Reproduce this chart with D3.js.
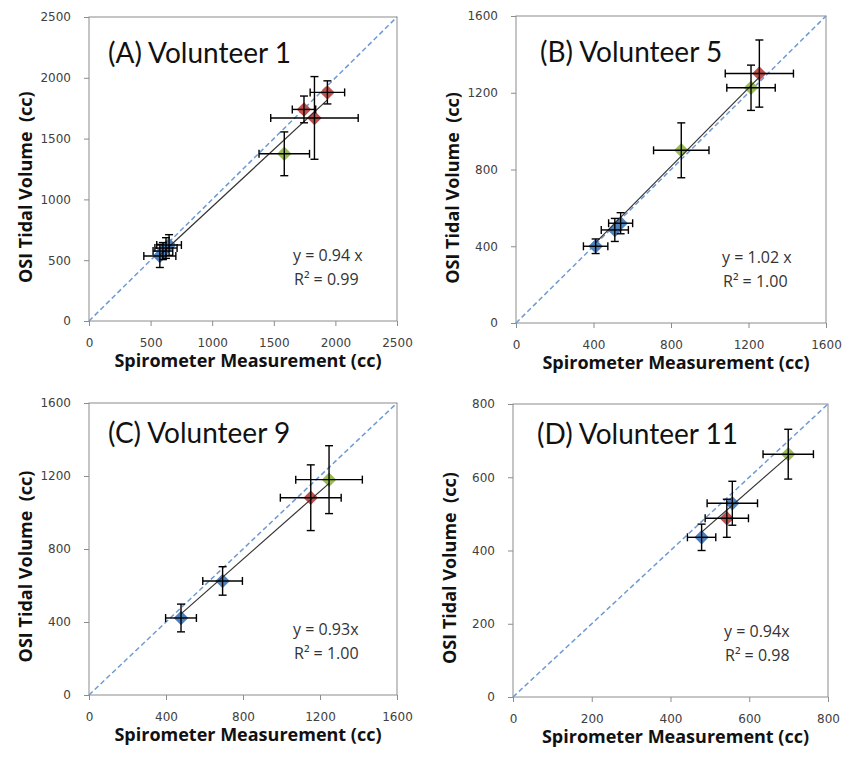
<!DOCTYPE html>
<html>
<head>
<meta charset="utf-8">
<script src="https://cdnjs.cloudflare.com/ajax/libs/d3/7.8.5/d3.min.js"></script>
<style>
  body { margin: 0; background: #fff; }
  .tick text { font-family: "DejaVu Sans", sans-serif; font-size: 12px; fill: #404040; }
  .tick line { stroke: #8c8c8c; }
  .ptitle { font-family: Lato, "Open Sans", sans-serif; font-size: 28px; fill: #111; }
  .atitle { font-family: "Open Sans", Lato, sans-serif; font-size: 18px; font-weight: bold; fill: #111; }
  .eq { font-family: "Open Sans", Lato, sans-serif; font-size: 16px; fill: #333; }
</style>
</head>
<body>
<div id="chart"></div>
<script>
// spirometer (x) vs OSI (y) tidal volume, mean +/- sd, by set
var volunteer1 = [
  {spiro: 575, osi: 535, spiroErr: 130, osiErr: 95, set: "s1"},
  {spiro: 600, osi: 575, spiroErr: 80, osiErr: 70, set: "s1"},
  {spiro: 625, osi: 600, spiroErr: 90, osiErr: 85, set: "s1"},
  {spiro: 650, osi: 625, spiroErr: 100, osiErr: 85, set: "s1"},
  {spiro: 1745, osi: 1740, spiroErr: 95, osiErr: 110, set: "s2"},
  {spiro: 1830, osi: 1670, spiroErr: 355, osiErr: 340, set: "s2"},
  {spiro: 1935, osi: 1880, spiroErr: 140, osiErr: 95, set: "s2"},
  {spiro: 1585, osi: 1375, spiroErr: 205, osiErr: 180, set: "s3"}
];
var volunteer5 = [
  {spiro: 411, osi: 400, spiroErr: 63, osiErr: 38, set: "s1"},
  {spiro: 510, osi: 485, spiroErr: 70, osiErr: 60, set: "s1"},
  {spiro: 540, osi: 520, spiroErr: 62, osiErr: 55, set: "s1"},
  {spiro: 853, osi: 900, spiroErr: 143, osiErr: 143, set: "s3"},
  {spiro: 1213, osi: 1226, spiroErr: 125, osiErr: 118, set: "s3"},
  {spiro: 1256, osi: 1300, spiroErr: 176, osiErr: 175, set: "s2"}
];
var volunteer9 = [
  {spiro: 478, osi: 422, spiroErr: 80, osiErr: 76, set: "s1"},
  {spiro: 694, osi: 625, spiroErr: 103, osiErr: 78, set: "s1"},
  {spiro: 1152, osi: 1081, spiroErr: 158, osiErr: 180, set: "s2"},
  {spiro: 1247, osi: 1180, spiroErr: 173, osiErr: 186, set: "s3"}
];
var volunteer11 = [
  {spiro: 479, osi: 436, spiroErr: 36, osiErr: 36, set: "s1"},
  {spiro: 557, osi: 529, spiroErr: 64, osiErr: 60, set: "s1"},
  {spiro: 543, osi: 488, spiroErr: 55, osiErr: 52, set: "s2"},
  {spiro: 699, osi: 663, spiroErr: 64, osiErr: 68, set: "s3"}
];

var panelNames = ["(A) Volunteer 1", "(B) Volunteer 5", "(C) Volunteer 9", "(D) Volunteer 11"];
var slopeLabels = ["y = 0.94 x", "y = 1.02 x", "y = 0.93x", "y = 0.94x"];
var slopes = [0.94, 1.02, 0.93, 0.94];
var r2Labels = ["R\u00b2 = 0.99", "R\u00b2 = 1.00", "R\u00b2 = 1.00", "R\u00b2 = 0.98"];
var axisMax = [2500, 1600, 1600, 800];
var tickValues = [
  [0, 500, 1000, 1500, 2000, 2500],
  [0, 400, 800, 1200, 1600],
  [0, 400, 800, 1200, 1600],
  [0, 200, 400, 600, 800]
];
var allData = [volunteer1, volunteer5, volunteer9, volunteer11];

// plot-area boxes in page pixels
var boxes = [
  {left: 89, top: 17, right: 397, bottom: 321},
  {left: 516, top: 16, right: 826, bottom: 323},
  {left: 89, top: 403, right: 397, bottom: 695},
  {left: 513, top: 404, right: 828, bottom: 697}
];

var color = d3.scaleOrdinal().domain(["s1", "s2", "s3"]).range(["#4f81bd", "#c0504d", "#9bbb59"]);

var svg = d3.select("#chart").append("svg")
  .attr("width", 844)
  .attr("height", 757);

for (var i = 0; i < 4; i++) drawPanel(i);

function drawPanel(k) {
  var b = boxes[k], data = allData[k];
  var w = b.right - b.left, h = b.bottom - b.top;

  var x = d3.scaleLinear().domain([0, axisMax[k]]).range([0, w]);
  var y = d3.scaleLinear().domain([0, axisMax[k]]).range([h, 0]);

  var g = svg.append("g").attr("transform", "translate(" + b.left + "," + b.top + ")");

  g.append("g")
    .attr("transform", "translate(0," + h + ")")
    .call(d3.axisBottom(x).tickValues(tickValues[k]).tickFormat(d3.format("d")).tickSize(5).tickPadding(12))
    .call(function(a) { a.select(".domain").remove(); });

  g.append("g")
    .call(d3.axisLeft(y).tickValues(tickValues[k]).tickFormat(d3.format("d")).tickSize(5).tickPadding(13))
    .call(function(a) { a.select(".domain").remove(); });

  g.append("rect")
    .attr("width", w).attr("height", h)
    .attr("fill", "none").attr("stroke", "#8c8c8c").attr("stroke-width", 1);

  // y = x reference
  g.append("line")
    .attr("x1", x(0)).attr("y1", y(0))
    .attr("x2", x(axisMax[k])).attr("y2", y(axisMax[k]))
    .attr("stroke", "#6e9bd4").attr("stroke-width", 1.5)
    .attr("stroke-dasharray", "5,3");

  g.selectAll(".pt")
    .data(data)
    .enter().append("path")
    .attr("class", "pt")
    .attr("d", d3.symbol().type(d3.symbolSquare).size(105))
    .attr("transform", function(d) { return "translate(" + x(d.spiro) + "," + y(d.osi) + ") rotate(45)"; })
    .attr("fill", function(d) { return color(d.set); });

  // fitted line through origin, over the data range
  var ext = d3.extent(data, function(d) { return d.spiro; });
  g.append("line")
    .attr("x1", x(ext[0])).attr("y1", y(slopes[k] * ext[0]))
    .attr("x2", x(ext[1])).attr("y2", y(slopes[k] * ext[1]))
    .attr("stroke", "#333").attr("stroke-width", 1.2);

  var cap = 4;
  var eb = g.selectAll(".err").data(data).enter().append("g")
    .attr("class", "err")
    .attr("stroke", "#000").attr("stroke-width", 1.4);
  eb.append("line")
    .attr("x1", function(d) { return x(d.spiro - d.spiroErr); })
    .attr("x2", function(d) { return x(d.spiro + d.spiroErr); })
    .attr("y1", function(d) { return y(d.osi); })
    .attr("y2", function(d) { return y(d.osi); });
  eb.append("line")
    .attr("x1", function(d) { return x(d.spiro); })
    .attr("x2", function(d) { return x(d.spiro); })
    .attr("y1", function(d) { return y(d.osi - d.osiErr); })
    .attr("y2", function(d) { return y(d.osi + d.osiErr); });
  [-1, 1].forEach(function(s) {
    eb.append("line")
      .attr("x1", function(d) { return x(d.spiro + s * d.spiroErr); })
      .attr("x2", function(d) { return x(d.spiro + s * d.spiroErr); })
      .attr("y1", function(d) { return y(d.osi) - cap; })
      .attr("y2", function(d) { return y(d.osi) + cap; });
    eb.append("line")
      .attr("x1", function(d) { return x(d.spiro) - cap; })
      .attr("x2", function(d) { return x(d.spiro) + cap; })
      .attr("y1", function(d) { return y(d.osi + s * d.osiErr); })
      .attr("y2", function(d) { return y(d.osi + s * d.osiErr); });
  });

  g.append("text").attr("class", "ptitle")
    .attr("x", k % 2 ? 24 : 19)
    .attr("y", k < 2 ? 46 : 40)
    .text(panelNames[k]);

  g.append("text").attr("class", "eq")
    .attr("x", w - 104)
    .attr("y", h - 60)
    .text(slopeLabels[k]);
  g.append("text").attr("class", "eq")
    .attr("x", w - 103)
    .attr("y", h - 36)
    .text(r2Labels[k]);

  g.append("text").attr("class", "atitle")
    .attr("x", w / 2 + 5)
    .attr("y", h + 46)
    .attr("text-anchor", "middle")
    .text("Spirometer Measurement (cc)");

  g.append("text").attr("class", "atitle")
    .attr("transform", "translate(-57," + (h * 0.56) + ") rotate(-90)")
    .attr("text-anchor", "middle")
    .style("white-space", "pre")
    .text("OSI Tidal Volume  (cc)");
}
</script>
</body>
</html>
